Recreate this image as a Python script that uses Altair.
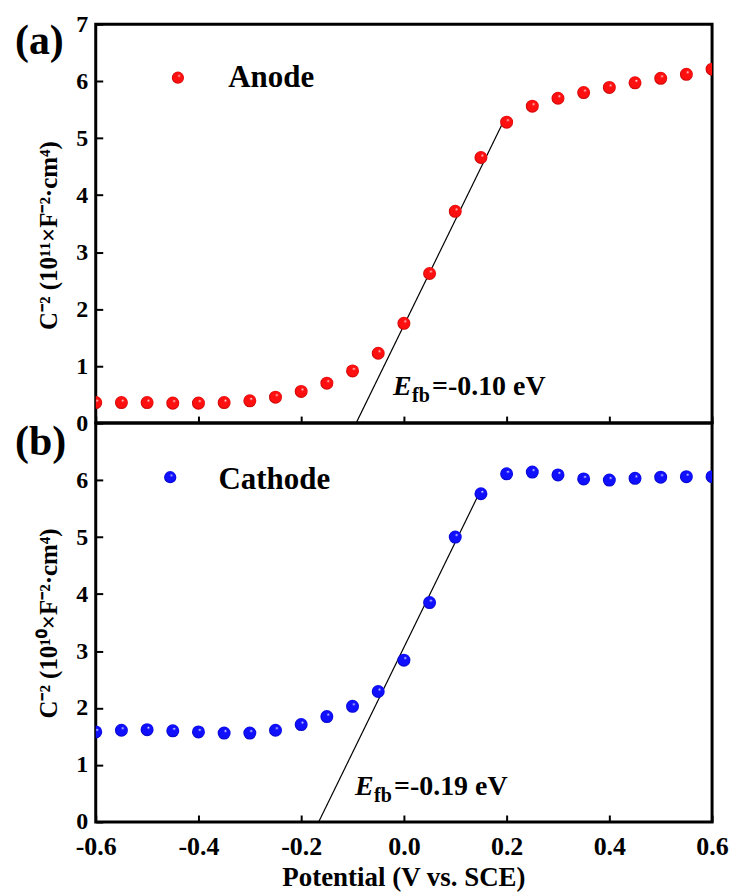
import altair as alt
import pandas as pd

# ---- data ----
potential = [-0.60, -0.55, -0.50, -0.45, -0.40, -0.35, -0.30, -0.25, -0.20, -0.15,
             -0.10, -0.05, 0.00, 0.05, 0.10, 0.15, 0.20, 0.25, 0.30, 0.35,
             0.40, 0.45, 0.50, 0.55, 0.60]
anode = [0.36, 0.36, 0.36, 0.35, 0.35, 0.36, 0.39, 0.455, 0.555, 0.70,
         0.915, 1.225, 1.75, 2.625, 3.715, 4.66, 5.28, 5.56, 5.70, 5.80,
         5.89, 5.97, 6.05, 6.12, 6.21]
cathode = [1.58, 1.61, 1.62, 1.60, 1.58, 1.56, 1.56, 1.61, 1.71, 1.85,
           2.03, 2.29, 2.84, 3.85, 5.00, 5.76, 6.11, 6.14, 6.09, 6.02,
           6.00, 6.03, 6.05, 6.06, 6.06]

anode_fit_x = [-0.093, 0.19]
anode_fit_y = [0.0, 5.22]
cathode_fit_x = [-0.166, 0.144]
cathode_fit_y = [0.0, 5.72]

x_ticks = [-0.6, -0.4, -0.2, 0.0, 0.2, 0.4, 0.6]
y_ticks_top = [0, 1, 2, 3, 4, 5, 6, 7]
y_ticks_bottom = [0, 1, 2, 3, 4, 5, 6]

FONT = "Liberation Serif"
W, H = 618, 400


def sphere(light, mid, dark):
    return alt.RadialGradient(
        gradient="radial",
        stops=[alt.GradientStop(offset=0, color=light),
               alt.GradientStop(offset=0.22, color=mid),
               alt.GradientStop(offset=0.75, color=mid),
               alt.GradientStop(offset=1, color=dark)],
        x1=0.62, y1=0.32, r1=0, x2=0.5, y2=0.5, r2=0.55)


def panel(values, grad, fit_x, fit_y, name, leg_x, leg_y, name_x, name_y,
          efb_val, efb_x, efb_y, letter, ytitle, yticks, show_x_labels,
          letter_y, ytitle_y):
    xscale = alt.Scale(domain=[-0.6, 0.6], nice=False, zero=False)
    yscale = alt.Scale(domain=[0, 7], nice=False)
    xaxis = alt.Axis(values=x_ticks, offset=-7, tickSize=7, tickWidth=2,
                     tickColor="black", domain=False, grid=False,
                     labels=show_x_labels, labelFlush=False, labelFont=FONT,
                     labelFontSize=26, labelFontWeight="bold", labelColor="black",
                     labelPadding=12,
                     labelExpr="replace(format(datum.value, '.1f'), '\u2212', '-')",
                     title=None)
    yaxis = alt.Axis(values=yticks, offset=-7, tickSize=7, tickWidth=2,
                     tickColor="black", domain=False, grid=False, labelFlush=False,
                     labelFont=FONT, labelFontSize=24, labelFontWeight="bold",
                     labelColor="black", labelPadding=8, format="d", title=None)

    df = pd.DataFrame({"x": potential, "y": values})
    fit = pd.DataFrame({"x": fit_x, "y": fit_y})

    base_x = alt.X("x:Q", scale=xscale, axis=xaxis)
    base_y = alt.Y("y:Q", scale=yscale, axis=yaxis)

    line = alt.Chart(fit).mark_line(color="black", strokeWidth=1.2, clip=True).encode(
        x=base_x, y=base_y)
    pts = alt.Chart(df).mark_circle(size=170, fill=grad, opacity=1, clip=True).encode(
        x=alt.X("x:Q"), y=alt.Y("y:Q"))

    leg_pt = alt.Chart(pd.DataFrame({"x": [leg_x], "y": [leg_y]})).mark_circle(
        size=150, fill=grad, opacity=1).encode(x="x:Q", y="y:Q")
    leg_tx = alt.Chart(pd.DataFrame({"x": [name_x], "y": [name_y], "t": [name]})).mark_text(
        font=FONT, fontSize=31, fontWeight="bold", color="black", align="left",
        baseline="alphabetic").encode(x="x:Q", y="y:Q", text="t:N")

    e_df = pd.DataFrame({"x": [efb_x], "y": [efb_y], "t": ["E"]})
    e_tx = alt.Chart(e_df).mark_text(
        font=FONT, fontSize=28, fontWeight="bold", fontStyle="italic", color="black",
        align="left", baseline="alphabetic").encode(x="x:Q", y="y:Q", text="t:N")
    fb_tx = alt.Chart(e_df).mark_text(
        font=FONT, fontSize=20, fontWeight="bold", color="black", dx=19, dy=7,
        align="left", baseline="alphabetic").encode(x="x:Q", y="y:Q", text=alt.value("fb"))
    val_tx = alt.Chart(e_df).mark_text(
        font=FONT, fontSize=28, fontWeight="bold", color="black", dx=39,
        align="left", baseline="alphabetic").encode(
        x="x:Q", y="y:Q", text=alt.value("=" + efb_val + " eV"))

    one = alt.Data(values=[{"a": 1}])
    letter_tx = alt.Chart(one).mark_text(
        font=FONT, fontSize=42, fontWeight="bold", color="black", align="left",
        baseline="alphabetic").encode(x=alt.value(-81), y=alt.value(letter_y),
                                      text=alt.value(letter))
    ytitle_tx = alt.Chart(one).mark_text(
        font=FONT, fontSize=25, fontWeight="bold", color="black", angle=270,
        align="center", baseline="middle").encode(
        x=alt.value(-47), y=alt.value(ytitle_y), text=alt.value(ytitle))

    layers = [line, pts, leg_pt, leg_tx, e_tx, fb_tx, val_tx, letter_tx, ytitle_tx]
    if show_x_labels:
        xtitle_tx = alt.Chart(one).mark_text(
            font=FONT, fontSize=27, fontWeight="bold", color="black",
            align="center", baseline="alphabetic").encode(
            x=alt.value(W / 2), y=alt.value(H + 64), text=alt.value("Potential (V vs. SCE)"))
        layers.append(xtitle_tx)
    return alt.layer(*layers).properties(width=W, height=H)


top = panel(anode, sphere("#ffffff", "#ff1010", "#a00000"), anode_fit_x, anode_fit_y,
            "Anode", -0.44, 6.06, -0.342, 5.9,
            "-0.10", -0.021, 0.49, "(a)", "C\u207b\u00b2 (10\u00b9\u00b9\u00d7F\u207b\u00b2\u00b7cm\u2074)",
            y_ticks_top, False, 30, 212)
bottom = panel(cathode, sphere("#ffffff", "#1010ff", "#0000a0"), cathode_fit_x, cathode_fit_y,
               "Cathode", -0.455, 6.05, -0.361, 5.85,
               "-0.19", -0.095, 0.47, "(b)", "C\u207b\u00b2 (10\u00b9\u2070\u00d7F\u207b\u00b2\u00b7cm\u2074)",
               y_ticks_bottom, True, 32, 201)

chart = alt.vconcat(top, bottom, spacing=0, bounds="flush").configure_view(
    stroke="black", strokeWidth=3
).properties(
    padding={"left": 13, "top": 9, "right": 5, "bottom": 5},
    background="white",
)

chart.save("out.html", embed_options={"renderer": "svg", "actions": False})
